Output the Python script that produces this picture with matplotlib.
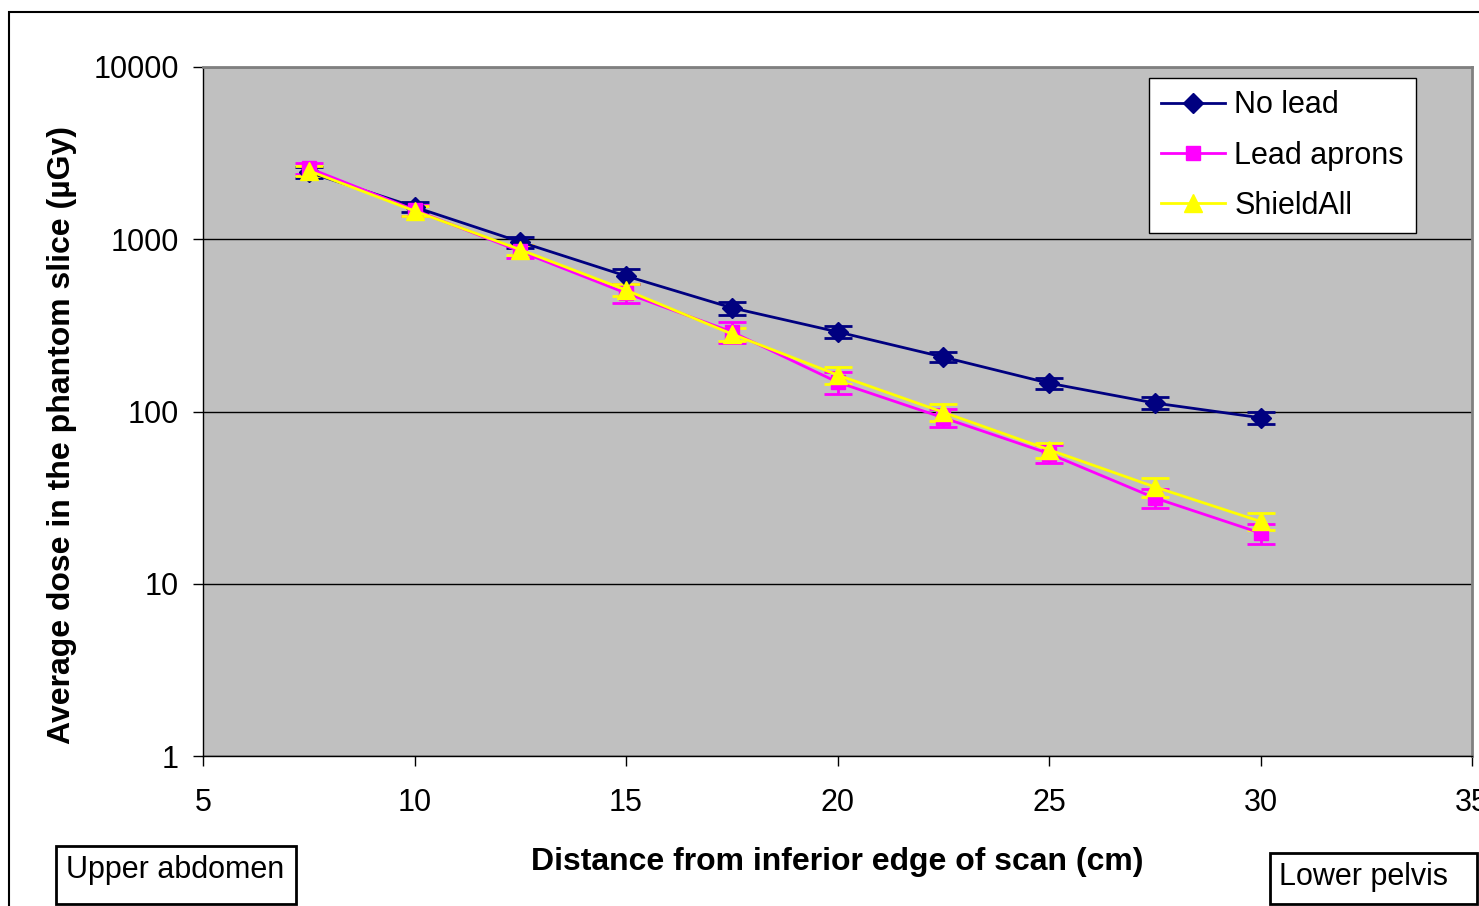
import numpy as np
import matplotlib
matplotlib.use("Agg")
import matplotlib.pyplot as plt
from matplotlib.patches import Rectangle
from matplotlib.ticker import FixedLocator, NullLocator

plt.rcParams['font.family'] = ['Liberation Sans', 'DejaVu Sans']

# distance from inferior edge of scan (cm)
distance = [7.5, 10, 12.5, 15, 17.5, 20, 22.5, 25, 27.5, 30]

# average dose (uGy) and error
no_lead = [2450, 1540, 965, 612, 400, 290, 207, 146, 112, 92]
no_lead_err = [180, 110, 70, 60, 35, 22, 14, 11, 9, 7]
lead_aprons = [2590, 1480, 850, 487, 290, 148, 92, 57, 31.5, 19.7]
lead_aprons_err = [190, 110, 70, 60, 40, 22, 11, 7, 4, 2.6]
shieldall = [2500, 1460, 870, 507, 282, 163, 99, 60, 36.5, 23]
shieldall_err = [170, 100, 60, 40, 25, 18, 11, 6, 4.5, 2.6]

y_ticks = [1, 10, 100, 1000, 10000]
x_ticks = [5, 10, 15, 20, 25, 30, 35]

fig = plt.figure(figsize=(14.79, 9.06), dpi=100)
ax = fig.add_axes([203/1479, 1-756/906, 1269/1479, 689/906])
ax.set_facecolor('#C0C0C0')

series = [
    (no_lead, no_lead_err, '#000080', 'D', 10, 'No lead'),
    (lead_aprons, lead_aprons_err, '#FF00FF', 's', 10, 'Lead aprons'),
    (shieldall, shieldall_err, '#FFFF00', '^', 13, 'ShieldAll'),
]
handles = []
labels = []
for vals, err, col, mk, ms, lab in series:
    eb = ax.errorbar(distance, vals, yerr=err, color=col, marker=mk, markersize=ms,
                     markeredgecolor=col, linewidth=2, elinewidth=2, capsize=10,
                     capthick=2)
    handles.append(eb.lines[0])
    labels.append(lab)

ax.set_yscale('log')
ax.set_ylim(1, 10000)
ax.set_xlim(5, 35)
ax.yaxis.set_major_locator(FixedLocator(y_ticks))
ax.yaxis.set_minor_locator(NullLocator())
ax.set_yticks(y_ticks)
ax.set_yticklabels([str(v) for v in y_ticks])
ax.set_xticks(x_ticks)
ax.set_xticklabels([str(v) for v in x_ticks])
ax.tick_params(axis='both', labelsize=22, length=7, width=1, color='black', direction='out')
ax.tick_params(axis='y', pad=10.5)
ax.tick_params(axis='x', pad=16)
ax.yaxis.grid(True, which='major', color='black', linewidth=1)
ax.set_axisbelow(True)
for s in ['top', 'right']:
    ax.spines[s].set_color('#808080')
    ax.spines[s].set_linewidth(2)
for s in ['left', 'bottom']:
    ax.spines[s].set_color('black')
    ax.spines[s].set_linewidth(1)

ax.set_ylabel('Average dose in the phantom slice (µGy)', fontsize=23, fontweight='bold')
ax.yaxis.set_label_coords(-0.099, 0.466)
ax.set_xlabel('Distance from inferior edge of scan (cm)', fontsize=23, fontweight='bold', labelpad=21)

leg = ax.legend(handles, labels, loc='upper right', bbox_to_anchor=(1416/1479, 1-78/906),
                bbox_transform=fig.transFigure, fontsize=22, frameon=True, fancybox=False,
                edgecolor='black', framealpha=1, handlelength=2.1, labelspacing=0.67,
                borderpad=0.4, handletextpad=0.3, borderaxespad=0)
leg.get_frame().set_linewidth(1)

# outer chart frame
fig.patches.append(Rectangle((9/1479, -0.1), 1.2, 1-12/906+0.1, transform=fig.transFigure,
                             fill=False, edgecolor='black', linewidth=1.5))

# region boxes
fig.patches.append(Rectangle((56/1479, 1-904/906), 240/1479, 58/906, transform=fig.transFigure,
                             fill=False, edgecolor='black', linewidth=2))
fig.text(66/1479, 1-870/906, 'Upper abdomen', fontsize=22, va='center', ha='left')
fig.patches.append(Rectangle((1270/1479, 1-904/906), 207/1479, 51/906, transform=fig.transFigure,
                             fill=False, edgecolor='black', linewidth=2))
fig.text(1279/1479, 1-877/906, 'Lower pelvis', fontsize=22, va='center', ha='left')

fig.savefig('out.png', dpi=100)
